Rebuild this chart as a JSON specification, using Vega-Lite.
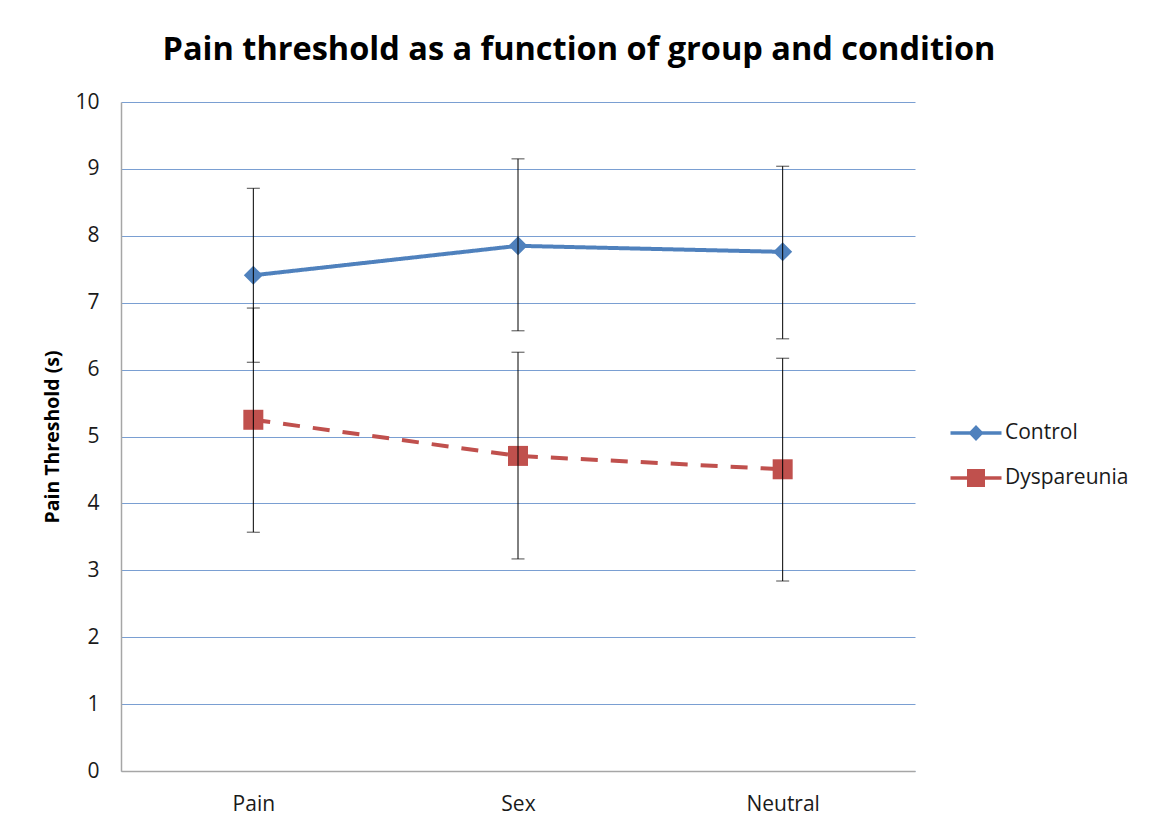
{
  "$schema": "https://vega.github.io/schema/vega-lite/v6.json",
  "width": 794,
  "height": 669,
  "autosize": {"type": "none"},
  "padding": {"left": 121, "top": 102, "right": 236, "bottom": 60},
  "background": "white",
  "config": {
    "font": "Open Sans",
    "view": {"stroke": null}
  },
  "title": {
    "text": "Pain threshold as a function of group and condition",
    "fontSize": 32.5,
    "fontWeight": "bold",
    "font": "Open Sans",
    "color": "#000000",
    "anchor": "middle",
    "frame": "group",
    "dx": 61,
    "dy": 43,
    "offset": 42,
    "baseline": "alphabetic"
  },
  "data": {
    "values": [
      {"condition": "Pain", "group": "Control", "mean": 7.41, "lo": 6.11, "hi": 8.71},
      {"condition": "Sex", "group": "Control", "mean": 7.85, "lo": 6.58, "hi": 9.15},
      {"condition": "Neutral", "group": "Control", "mean": 7.76, "lo": 6.46, "hi": 9.04},
      {"condition": "Pain", "group": "Dyspareunia", "mean": 5.25, "lo": 3.57, "hi": 6.92},
      {"condition": "Sex", "group": "Dyspareunia", "mean": 4.71, "lo": 3.17, "hi": 6.26},
      {"condition": "Neutral", "group": "Dyspareunia", "mean": 4.51, "lo": 2.84, "hi": 6.17}
    ]
  },
  "encoding": {
    "x": {
      "field": "condition",
      "type": "nominal",
      "sort": ["Pain", "Sex", "Neutral"],
      "scale": {"type": "point", "padding": 0.5},
      "axis": {
        "title": null,
        "labelAngle": 0,
        "labelFontSize": 21,
        "labelColor": "#1a1a1a",
        "labelPadding": 22,
        "ticks": false,
        "domainColor": "#A6A6A6",
        "domainWidth": 1.5,
        "grid": false
      }
    }
  },
  "layer": [
    {
      "mark": {"type": "line", "strokeWidth": 4},
      "encoding": {
        "y": {
          "field": "mean",
          "type": "quantitative",
          "scale": {"domain": [0, 10], "nice": false},
          "axis": {
            "title": "Pain Threshold (s)",
            "titleFontSize": 19.5,
            "titleFontWeight": "bold",
            "titleColor": "#000000",
            "titlePadding": 12,
            "values": [0, 1, 2, 3, 4, 5, 6, 7, 8, 9, 10],
            "format": "d",
            "labelFontSize": 21,
            "labelColor": "#1a1a1a",
            "labelPadding": 22,
            "ticks": false,
            "domainColor": "#A6A6A6",
            "domainWidth": 1.5,
            "grid": true,
            "gridColor": "#7A9FD2",
            "gridWidth": 1
          }
        },
        "color": {
          "field": "group",
          "type": "nominal",
          "scale": {"domain": ["Control", "Dyspareunia"], "range": ["#4F81BD", "#C0504D"]}
        },
        "strokeDash": {
          "field": "group",
          "type": "nominal",
          "scale": {"domain": ["Control", "Dyspareunia"], "range": [[1, 0], [17, 13]]},
          "legend": null
        }
      }
    },
    {
      "transform": [{"filter": "datum.group === 'Control'"}],
      "mark": {"type": "point", "filled": true, "opacity": 1, "strokeWidth": 0, "shape": "diamond", "size": 361},
      "encoding": {
        "y": {"field": "mean", "type": "quantitative"},
        "color": {
          "field": "group",
          "type": "nominal",
          "legend": {
            "title": null,
            "orient": "none",
            "legendX": 843,
            "legendY": 319,
            "padding": 0,
            "symbolSize": 576,
            "labelOffset": 17,
            "labelFontSize": 21,
            "labelColor": "#1a1a1a",
            "rowPadding": 23,
            "symbolStrokeWidth": 0,
            "symbolOpacity": 1,
            "encode": {
              "symbols": {
                "update": {
                  "shape": {"signal": "datum.value === 'Control' ? 'M-2.125,-0.146L-0.5,-0.146L0,-0.67L0.5,-0.146L2.125,-0.146L2.125,0.146L0.5,0.146L0,0.67L-0.5,0.146L-2.125,0.146Z' : 'M-2.125,-0.146L-0.75,-0.146L-0.75,-0.75L0.75,-0.75L0.75,-0.146L2.125,-0.146L2.125,0.146L0.75,0.146L0.75,0.75L-0.75,0.75L-0.75,0.146L-2.125,0.146Z'"},
                  "size": {"value": 576}
                }
              }
            }
          }
        }
      }
    },
    {
      "transform": [{"filter": "datum.group === 'Dyspareunia'"}],
      "mark": {"type": "point", "filled": true, "opacity": 1, "strokeWidth": 0, "shape": "square", "size": 400},
      "encoding": {
        "y": {"field": "mean", "type": "quantitative"},
        "color": {"field": "group", "type": "nominal"}
      }
    },
    {
      "mark": {"type": "rule", "color": "#000000", "strokeWidth": 1},
      "encoding": {
        "y": {"field": "lo", "type": "quantitative"},
        "y2": {"field": "hi"}
      }
    },
    {
      "mark": {"type": "tick", "color": "#000000", "size": 13, "thickness": 1, "orient": "horizontal"},
      "encoding": {"y": {"field": "lo", "type": "quantitative"}}
    },
    {
      "mark": {"type": "tick", "color": "#000000", "size": 13, "thickness": 1, "orient": "horizontal"},
      "encoding": {"y": {"field": "hi", "type": "quantitative"}}
    }
  ]
}
